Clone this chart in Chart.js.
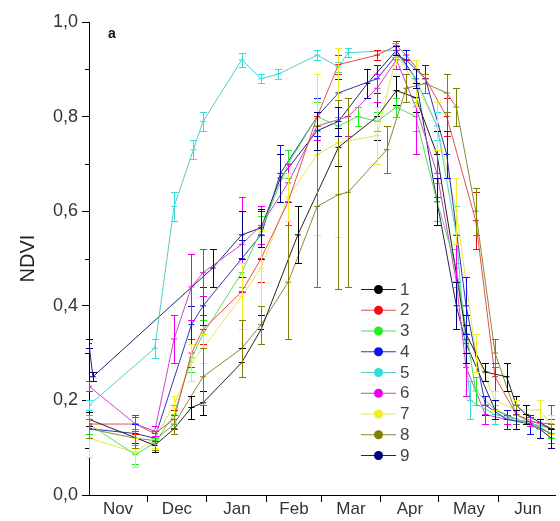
<!DOCTYPE html>
<html>
<head>
<meta charset="utf-8">
<script src="https://cdn.jsdelivr.net/npm/chart.js@4.4.1/dist/chart.umd.min.js"></script>
<style>
  html, body { margin: 0; padding: 0; background: #fff; }
</style>
</head>
<body>
<canvas id="chart" width="560" height="521"></canvas>
<script>
// --- DATA (x = days since 1 Nov, y = NDVI, err = error bar half length) ---
const months = ["Nov", "Dec", "Jan", "Feb", "Mar", "Apr", "May", "Jun"];
const monthMids = [15, 45.5, 76.5, 106, 135.5, 166, 196.5, 227];
const monthEdges = [30, 61, 92, 120, 151, 181, 212];
const yTicks = [0, 0.2, 0.4, 0.6, 0.8, 1.0];
const yMinorTicks = [0.1, 0.3, 0.5, 0.7, 0.9];
const seriesLabels = ["1", "2", "3", "4", "5", "6", "7", "8", "9"];

const days1 = [0, 34, 44, 53, 59, 79, 89, 108, 129, 149, 159, 169, 180, 195, 205, 216, 221, 226, 239];
const ndvi1 = [0.16, 0.105, 0.14, 0.185, 0.195, 0.28, 0.35, 0.55, 0.735, 0.80, 0.855, 0.84, 0.72, 0.34, 0.26, 0.25, 0.19, 0.17, 0.14];
const err1 = [0.015, 0.015, 0.01, 0.025, 0.025, 0.03, 0.03, 0.06, 0.04, 0.05, 0.03, 0.03, 0.05, 0.04, 0.02, 0.03, 0.02, 0.02, 0.02];

const days2 = [0, 24, 34, 44, 53, 59, 79, 89, 103, 118, 129, 149, 159, 164, 174, 185, 200, 210, 221, 239];
const ndvi2 = [0.15, 0.15, 0.13, 0.16, 0.30, 0.35, 0.43, 0.50, 0.62, 0.80, 0.91, 0.93, 0.95, 0.93, 0.88, 0.80, 0.58, 0.25, 0.17, 0.14];
const err2 = [0.02, 0.02, 0.015, 0.02, 0.03, 0.03, 0.06, 0.05, 0.05, 0.04, 0.02, 0.01, 0.01, 0.01, 0.03, 0.04, 0.06, 0.03, 0.02, 0.02];

const days3 = [0, 24, 34, 44, 53, 59, 79, 89, 103, 118, 129, 139, 149, 159, 169, 180, 190, 200, 210, 221, 239];
const ndvi3 = [0.15, 0.085, 0.11, 0.17, 0.29, 0.34, 0.47, 0.56, 0.70, 0.80, 0.78, 0.80, 0.79, 0.82, 0.80, 0.62, 0.48, 0.22, 0.18, 0.16, 0.13];
const err3 = [0.02, 0.02, 0.01, 0.02, 0.03, 0.03, 0.03, 0.03, 0.03, 0.03, 0.02, 0.02, 0.02, 0.02, 0.03, 0.04, 0.04, 0.03, 0.02, 0.01, 0.01];

const days4 = [0, 24, 34, 53, 59, 79, 89, 99, 118, 129, 149, 159, 164, 174, 185, 195, 205, 216, 228, 239];
const ndvi4 = [0.14, 0.13, 0.12, 0.36, 0.40, 0.50, 0.55, 0.68, 0.80, 0.85, 0.88, 0.93, 0.92, 0.88, 0.72, 0.40, 0.19, 0.16, 0.15, 0.13];
const err4 = [0.02, 0.02, 0.02, 0.04, 0.04, 0.04, 0.05, 0.06, 0.04, 0.03, 0.03, 0.02, 0.02, 0.03, 0.05, 0.06, 0.02, 0.02, 0.02, 0.02];

const days5 = [0, 34, 44, 54, 59, 79, 89, 98, 118, 129, 134, 158, 169, 180, 190, 197, 210, 221, 239];
const ndvi5 = [0.19, 0.31, 0.61, 0.73, 0.79, 0.92, 0.88, 0.89, 0.93, 0.905, 0.935, 0.94, 0.88, 0.78, 0.55, 0.20, 0.17, 0.16, 0.14];
const err5 = [0.01, 0.02, 0.03, 0.02, 0.02, 0.015, 0.01, 0.01, 0.01, 0.01, 0.01, 0.015, 0.02, 0.03, 0.06, 0.04, 0.02, 0.01, 0.01];

const days6 = [0, 24, 34, 44, 53, 59, 79, 89, 103, 118, 134, 149, 159, 169, 180, 190, 195, 205, 216, 228, 239];
const ndvi6 = [0.23, 0.15, 0.135, 0.33, 0.44, 0.47, 0.53, 0.57, 0.66, 0.78, 0.80, 0.86, 0.92, 0.82, 0.68, 0.45, 0.27, 0.17, 0.16, 0.155, 0.15];
const err6 = [0.01, 0.015, 0.01, 0.05, 0.07, 0.05, 0.10, 0.04, 0.04, 0.03, 0.04, 0.03, 0.02, 0.10, 0.05, 0.10, 0.06, 0.02, 0.01, 0.01, 0.04];

const days7 = [0, 24, 34, 44, 53, 59, 79, 89, 103, 118, 129, 149, 159, 169, 180, 190, 200, 210, 221, 233, 239];
const ndvi7 = [0.12, 0.09, 0.12, 0.19, 0.28, 0.31, 0.42, 0.48, 0.63, 0.72, 0.745, 0.76, 0.93, 0.87, 0.78, 0.60, 0.30, 0.20, 0.18, 0.18, 0.15];
const err7 = [0.04, 0.03, 0.02, 0.02, 0.04, 0.03, 0.07, 0.08, 0.05, 0.17, 0.20, 0.06, 0.02, 0.05, 0.05, 0.07, 0.04, 0.02, 0.02, 0.02, 0.02];

const days8 = [0, 24, 34, 44, 59, 79, 89, 103, 118, 129, 134, 154, 164, 174, 185, 190, 200, 210, 221, 239];
const ndvi8 = [0.14, 0.12, 0.115, 0.15, 0.25, 0.31, 0.36, 0.45, 0.61, 0.635, 0.64, 0.73, 0.86, 0.87, 0.85, 0.82, 0.60, 0.30, 0.17, 0.13];
const err8 = [0.02, 0.02, 0.02, 0.02, 0.06, 0.06, 0.04, 0.12, 0.17, 0.20, 0.20, 0.05, 0.03, 0.02, 0.04, 0.04, 0.05, 0.03, 0.02, 0.02];

const days9 = [0, 2, 64, 79, 89, 99, 118, 129, 144, 159, 169, 180, 190, 195, 210, 221, 233, 239];
const ndvi9 = [0.32, 0.25, 0.48, 0.55, 0.565, 0.67, 0.77, 0.79, 0.87, 0.94, 0.88, 0.62, 0.40, 0.32, 0.18, 0.16, 0.14, 0.12];
const err9 = [0.01, 0.01, 0.04, 0.05, 0.04, 0.05, 0.04, 0.03, 0.03, 0.01, 0.02, 0.05, 0.05, 0.04, 0.02, 0.02, 0.02, 0.02];

const seriesColors = ["#000000", "#ee1111", "#22ee22", "#1111ee", "#33dddd", "#ee00ee", "#eeee22", "#808000", "#000080"];
const lineColors = ["#222222", "#e05050", "#55dd55", "#3333bb", "#55cccc", "#cc44cc", "#e6e655", "#8a8a33", "#222266"];

const allDays = [days1, days2, days3, days4, days5, days6, days7, days8, days9];
const allNdvi = [ndvi1, ndvi2, ndvi3, ndvi4, ndvi5, ndvi6, ndvi7, ndvi8, ndvi9];
const allErr = [err1, err2, err3, err4, err5, err6, err7, err8, err9];

const datasets = seriesLabels.map((label, i) => ({
    label: label,
    data: allDays[i].map((d, j) => ({ x: d, y: allNdvi[i][j] })),
    errors: allErr[i],
    markColor: seriesColors[i],
    borderColor: lineColors[i],
    backgroundColor: seriesColors[i],
    pointBorderColor: seriesColors[i],
    borderWidth: 1,
    pointStyle: 'line',
    pointRadius: 3,
    pointBorderWidth: 1,
    tension: 0
}));

// error bars, drawn from the scales
const errorBars = {
    id: 'errorBars',
    afterDatasetsDraw(chart) {
        const { ctx, scales: { x, y } } = chart;
        chart.data.datasets.forEach(ds => {
            ctx.save();
            ctx.strokeStyle = ds.markColor;
            ctx.lineWidth = 1;
            ds.data.forEach((p, j) => {
                const e = ds.errors[j];
                const px = Math.round(x.getPixelForValue(p.x)) + 0.5;
                const y1 = Math.round(y.getPixelForValue(p.y + e)) + 0.5;
                const y2 = Math.round(y.getPixelForValue(p.y - e)) + 0.5;
                ctx.beginPath();
                ctx.moveTo(px, y1); ctx.lineTo(px, y2);
                ctx.moveTo(px - 3.5, y1); ctx.lineTo(px + 3.5, y1);
                ctx.moveTo(px - 3.5, y2); ctx.lineTo(px + 3.5, y2);
                ctx.stroke();
            });
            ctx.restore();
        });
    }
};

// minor y ticks, panel letter and the legend
const extras = {
    id: 'extras',
    afterDraw(chart) {
        const { ctx, scales: { y }, chartArea } = chart;
        ctx.save();
        ctx.strokeStyle = '#000';
        ctx.lineWidth = 1;
        yMinorTicks.forEach(v => {
            const py = Math.round(y.getPixelForValue(v)) + 0.5;
            ctx.beginPath();
            ctx.moveTo(chartArea.left - 4, py);
            ctx.lineTo(chartArea.left, py);
            ctx.stroke();
        });

        ctx.fillStyle = '#111';
        ctx.font = 'bold 14px "Liberation Sans", Arial, sans-serif';
        ctx.textBaseline = 'alphabetic';
        ctx.fillText('a', 108, 38);

        // legend
        chart.data.datasets.forEach((ds, i) => {
            const ly = 289 + i * 20.75;
            ctx.strokeStyle = ds.borderColor;
            ctx.lineWidth = 1;
            ctx.beginPath();
            ctx.moveTo(361, ly + 0.5);
            ctx.lineTo(396, ly + 0.5);
            ctx.stroke();
            ctx.fillStyle = ds.markColor;
            ctx.beginPath();
            ctx.arc(378.5, ly + 0.5, 4.5, 0, Math.PI * 2);
            ctx.fill();
            ctx.fillStyle = '#444';
            ctx.font = '17px "Liberation Sans", Arial, sans-serif';
            ctx.textBaseline = 'middle';
            ctx.fillText(ds.label, 400, ly + 1);
        });
        ctx.restore();
    }
};

const xTicks = monthMids.concat(monthEdges).sort((a, b) => a - b);

new Chart(document.getElementById('chart'), {
    type: 'line',
    data: { datasets: datasets },
    options: {
        responsive: false,
        animation: false,
        layout: { padding: { top: 22, right: 0, bottom: 0, left: 0 } },
        plugins: {
            legend: { display: false },
            tooltip: { enabled: false }
        },
        scales: {
            x: {
                type: 'linear',
                min: 0,
                max: 241,
                afterBuildTicks: s => { s.ticks = xTicks.map(v => ({ value: v })); },
                afterFit: s => { s.height = 26; },
                ticks: {
                    autoSkip: false,
                    maxRotation: 0,
                    padding: -3,
                    color: '#333',
                    font: { family: '"Liberation Sans", Arial, sans-serif', size: 17 },
                    callback: v => {
                        const i = monthMids.indexOf(v);
                        return i >= 0 ? months[i] : '';
                    }
                },
                grid: {
                    drawOnChartArea: false,
                    tickLength: 7,
                    tickColor: c => monthEdges.includes(c.tick.value) ? '#000' : 'rgba(0,0,0,0)'
                },
                border: { color: '#000' }
            },
            y: {
                min: 0,
                max: 1,
                afterBuildTicks: s => { s.ticks = yTicks.map(v => ({ value: v })); },
                afterFit: s => { s.width = 89; },
                ticks: {
                    padding: 4,
                    color: '#333',
                    font: { family: '"Liberation Sans", Arial, sans-serif', size: 18 },
                    callback: v => v.toFixed(1).replace('.', ',')
                },
                grid: { drawOnChartArea: false, tickLength: 7, tickColor: '#000' },
                border: { color: '#000' },
                title: {
                    display: true,
                    text: 'NDVI',
                    color: '#222',
                    padding: { top: 16, bottom: 0 },
                    font: { family: '"Liberation Sans", Arial, sans-serif', size: 20 }
                }
            }
        }
    },
    plugins: [errorBars, extras]
});
</script>
</body>
</html>
